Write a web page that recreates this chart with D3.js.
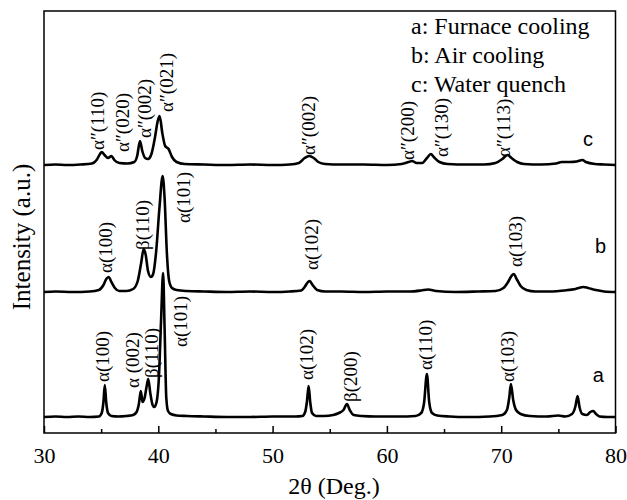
<!DOCTYPE html>
<html>
<head>
<meta charset="utf-8">
<script src="https://d3js.org/d3.v7.min.js"></script>
<style>
  body { margin: 0; background: #fff; }
  svg { display: block; }
</style>
</head>
<body>
<svg id="chart" width="627" height="500"></svg>
<script>
// XRD patterns, [2theta, intensity] (intensity in plot units above each baseline)
const furnace = [[30,1],[31,1.5],[32,1],[33,1.5],[34,1],[34.8,1.5],[35.05,5],[35.2,16],[35.32,33],[35.45,15],[35.6,5],[35.9,2],[36.5,1.5],[37.2,2],[37.8,3],[38.1,6],[38.3,14],[38.47,27],[38.62,16],[38.8,20],[39.0,33],[39.12,39],[39.3,25],[39.5,13],[39.65,11],[39.85,16],[40.05,40],[40.25,100],[40.42,145],[40.55,90],[40.7,20],[40.85,7],[41.1,4],[41.6,2.5],[42.5,2],[44,1.5],[46,1],[48,1],[50,1.5],[52,1.5],[52.6,2],[52.85,6],[53.0,16],[53.15,32],[53.3,15],[53.45,5],[53.8,2],[54.5,2],[55.3,3],[55.8,5],[56.2,8],[56.5,14],[56.75,8],[57.1,3],[57.8,2],[59,1.5],[61,1.5],[62.5,2],[63.0,5],[63.25,15],[63.5,44],[63.7,16],[63.95,5],[64.4,2.5],[65.5,1.5],[67,1],[69,1.5],[70.1,3],[70.5,8],[70.7,20],[70.85,34],[71.05,18],[71.3,8],[71.7,4],[72.5,2],[74,1.5],[75,2.5],[75.6,1.5],[76.2,4],[76.5,12],[76.68,22],[76.85,11],[77.1,4],[77.5,3],[77.8,6],[78.05,7],[78.3,4],[78.6,1.5],[79.3,1],[80,1]];
const air = [[30,1],[31,1.5],[32.5,1],[34,1.5],[34.8,3],[35.2,8],[35.45,14],[35.65,16],[35.9,11],[36.2,5],[36.6,2],[37.2,2],[37.8,4],[38.2,12],[38.5,30],[38.72,44],[38.9,38],[39.1,22],[39.35,16],[39.55,19],[39.8,40],[40.1,85],[40.38,117],[40.55,95],[40.75,40],[40.95,12],[41.2,5],[41.6,3],[42.5,2],[44,1.5],[46,1],[48,1.5],[50,1],[51.5,1.5],[52.5,2.5],[52.8,6],[53.1,11],[53.25,12],[53.5,8],[53.9,3],[54.6,1.5],[56,1.5],[58,1],[60,1.5],[62,1.5],[63,2.5],[63.6,3.5],[64.3,2],[66,1],[68,1.5],[69.5,2],[70.2,5],[70.6,11],[70.9,17],[71.1,19],[71.35,14],[71.7,7],[72.2,3],[73,1.5],[74.5,1.5],[75.5,2.5],[76.5,4],[77.2,6],[77.6,5],[78.3,3],[79,1.5],[80,1]];
const water = [[30,1],[31,1.5],[32,1],[33.2,1.5],[34.2,2.5],[34.6,6],[34.9,12],[35.05,14],[35.3,11],[35.6,8],[35.9,10],[36.15,6],[36.6,3],[37.3,2.5],[37.9,4],[38.15,10],[38.4,25],[38.6,15],[38.85,8],[39.1,7],[39.4,12],[39.7,28],[39.95,45],[40.12,50],[40.35,33],[40.6,20],[40.9,17],[41.2,9],[41.6,4],[42.3,2],[44,1.5],[46,1],[48,1.5],[50,1],[51.5,1.5],[52.3,3],[52.8,8],[53.2,10],[53.6,8],[54.0,4],[54.6,2],[56,1.5],[58,1.5],[60,1],[61.3,2],[61.9,4],[62.2,5],[62.6,3],[63.1,3],[63.5,8],[63.85,12],[64.1,9],[64.6,4],[65.3,2],[67,1.5],[68.5,1.5],[69.5,3],[70.1,7],[70.55,11],[70.9,8],[71.4,4],[72,2],[73.5,1.5],[74.8,2.5],[75.3,4],[76,4],[76.6,4.5],[77.1,6],[77.4,4],[78.2,2],[79,1.5],[80,1]];

const seriesNames = ["a", "b", "c"];
const seriesOffsets = [15, 140, 267];
const legendLines = ["a: Furnace cooling", "b: Air cooling", "c: Water quench"];
const xTicks = [30, 40, 50, 60, 70, 80];
const xMinorTicks = [35, 45, 55, 65, 75];

// peak labels: [2theta position, height above baseline where text starts, text]
const labelsA = [[35.1, 35, "α(100)"], [37.8, 29, "α (002)"], [39.4, 39, "β(110)"], [42.0, 70, "α(101)"], [53.0, 37, "α(102)"], [56.8, 15, "β(200)"], [63.4, 47, "α(110)"], [70.6, 35, "α(103)"]];
const labelsB = [[35.4, 19, "α(100)"], [38.6, 42, "β(110)"], [42.2, 69, "α(101)"], [53.4, 22, "α(102)"], [71.3, 25, "α(103)"]];
const labelsC = [[34.7, 15, "α″(110)"], [36.9, 13, "α″(020)"], [38.8, 27, "α″(002)"], [40.7, 53, "α″(021)"], [53.2, 10, "α″(002)"], [61.8, 5, "α″(200)"], [64.8, 8, "α″(130)"], [70.2, 8, "α″(113)"]];
// where the series letters sit: [2theta, height above baseline]
const letterPos = [[78.0, 36], [78.2, 40], [77.15, 20]];

const svg = d3.select("#chart");
const margin = { top: 11, right: 11.5, bottom: 67, left: 44 };
const width = 627 - margin.left - margin.right;
const height = 500 - margin.top - margin.bottom;

const x = d3.scaleLinear().domain([30, 80]).range([margin.left, margin.left + width]);
const y = d3.scaleLinear().domain([0, 422]).range([margin.top + height, margin.top]);

const serif = "'Liberation Serif', 'Times New Roman', serif";
const sans = "'Liberation Sans', Arial, sans-serif";

const line = d3.line()
  .x(d => x(d[0]))
  .y(d => y(d[1]))
  .curve(d3.curveMonotoneX);

const patterns = [furnace, air, water];
const labelSets = [labelsA, labelsB, labelsC];

patterns.forEach((pts, i) => {
  const off = seriesOffsets[i];
  svg.append("path")
    .datum(pts.map(p => [p[0], p[1] + off]))
    .attr("d", line)
    .attr("fill", "none")
    .attr("stroke", "#000")
    .attr("stroke-width", 2.6)
    .attr("stroke-linejoin", "round");

  labelSets[i].forEach(l => {
    svg.append("text")
      .attr("transform", `translate(${x(l[0])},${y(l[1] + off + 1)}) rotate(-90)`)
      .attr("dy", "0.33em")
      .style("font-family", serif)
      .style("font-size", "19px")
      .text(l[2]);
  });
});

seriesNames.forEach((n, i) => {
  svg.append("text")
    .attr("x", x(letterPos[i][0]))
    .attr("y", y(seriesOffsets[i] + letterPos[i][1]))
    .style("font-family", sans)
    .style("font-size", "20px")
    .text(n);
});

// frame
svg.append("rect")
  .attr("x", margin.left).attr("y", margin.top)
  .attr("width", width).attr("height", height)
  .attr("fill", "none").attr("stroke", "#000").attr("stroke-width", 1.5);

// x axis, ticks pointing inward
const xAxis = d3.axisBottom(x).tickValues(xTicks).tickSize(-7).tickPadding(14).tickFormat(d3.format("d"));
const gx = svg.append("g").attr("transform", `translate(0,${margin.top + height})`).call(xAxis);
gx.select(".domain").remove();
gx.selectAll("line").attr("stroke-width", 1.5);
gx.attr("font-family", null).attr("font-size", null);
gx.selectAll("text").style("font-family", serif).style("font-size", "22px").attr("fill", "#000");

const gm = svg.append("g").attr("transform", `translate(0,${margin.top + height})`)
  .call(d3.axisBottom(x).tickValues(xMinorTicks).tickSize(-4).tickFormat(""));
gm.select(".domain").remove();
gm.selectAll("line").attr("stroke-width", 1.5);

svg.append("text")
  .attr("x", 334).attr("y", 494)
  .attr("text-anchor", "middle")
  .style("font-family", serif).style("font-size", "24px")
  .text("2θ (Deg.)");

svg.append("text")
  .attr("transform", "translate(21,237) rotate(-90)")
  .attr("text-anchor", "middle")
  .attr("dy", "0.35em")
  .style("font-family", serif).style("font-size", "25px")
  .text("Intensity (a.u.)");

// legend
legendLines.forEach((t, i) => {
  svg.append("text")
    .attr("x", 411).attr("y", 34 + i * 29)
    .style("font-family", serif).style("font-size", "24px")
    .text(t);
});
</script>
</body>
</html>
